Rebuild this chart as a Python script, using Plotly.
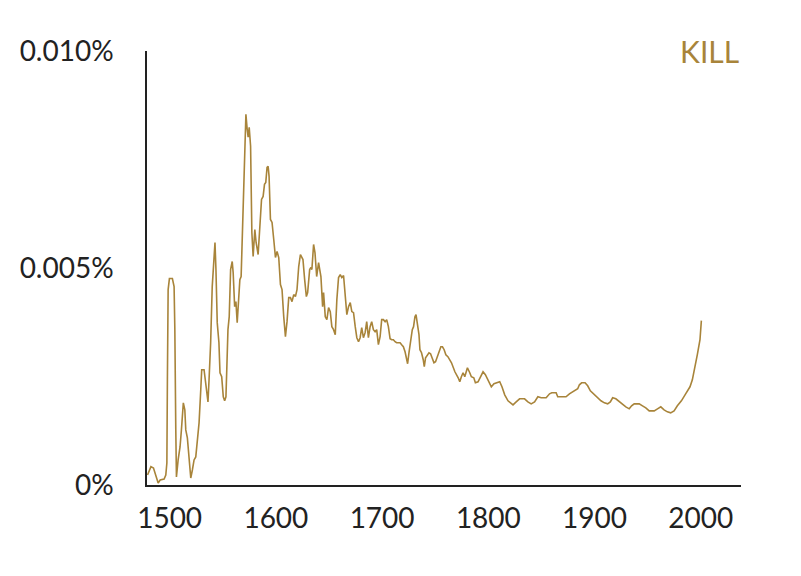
import plotly.graph_objects as go

# share of all words, in percent
years = [
    1479.2, 1482.4, 1484.8, 1486.1, 1488.0, 1489.2, 1491.1, 1494.8, 1496.4, 1497.4,
    1497.9, 1498.6, 1499.8, 1502.6, 1504.2, 1504.9, 1505.8, 1506.4, 1508.0, 1509.8,
    1511.1, 1512.9, 1514.3, 1515.2, 1516.7, 1518.3, 1519.9, 1521.4, 1523.0, 1524.6,
    1526.1, 1527.7, 1529.3, 1530.2, 1532.4, 1534.0, 1536.1, 1537.1, 1538.6, 1540.1,
    1541.7, 1542.7, 1543.6, 1544.8, 1546.4, 1547.4, 1549.0, 1550.5, 1551.8, 1553.0,
    1553.7, 1554.9, 1556.1, 1557.4, 1558.9, 1559.8, 1561.2, 1562.4, 1563.6, 1565.2,
    1566.1, 1567.3, 1568.9, 1570.5, 1571.8, 1573.0, 1573.9, 1574.9, 1576.2, 1577.4,
    1578.6, 1580.2, 1581.4, 1583.3, 1584.9, 1586.5, 1588.0, 1589.3, 1590.5, 1591.7,
    1592.7, 1593.6, 1594.9, 1596.4, 1598.0, 1599.6, 1601.1, 1602.7, 1604.3, 1605.8,
    1607.4, 1609.0, 1610.5, 1612.1, 1613.7, 1615.2, 1616.8, 1618.4, 1619.9, 1621.5,
    1623.1, 1624.6, 1625.5, 1627.1, 1628.7, 1629.9, 1631.8, 1633.0, 1633.9, 1635.5,
    1636.8, 1638.4, 1640.2, 1642.4, 1644.0, 1644.9, 1646.5, 1648.0, 1649.6, 1651.2,
    1652.7, 1654.3, 1655.9, 1657.4, 1659.0, 1660.6, 1662.1, 1663.7, 1665.3, 1666.8,
    1668.4, 1670.0, 1671.5, 1673.1, 1674.7, 1676.2, 1677.8, 1679.3, 1680.8, 1682.4,
    1684.0, 1685.5, 1687.1, 1688.7, 1690.2, 1691.8, 1693.4, 1694.9, 1696.5, 1698.1,
    1699.6, 1701.2, 1702.8, 1704.3, 1705.9, 1707.5, 1709.0, 1710.6, 1712.2, 1713.7,
    1715.3, 1716.9, 1718.4, 1720.0, 1721.6, 1723.1, 1724.0, 1725.3, 1726.5, 1728.4,
    1729.6, 1730.9, 1731.9, 1733.1, 1734.7, 1735.6, 1737.1, 1738.7, 1739.7, 1740.9,
    1742.5, 1744.1, 1745.6, 1747.2, 1748.8, 1750.3, 1751.9, 1753.4, 1755.3, 1756.8,
    1758.4, 1760.0, 1761.9, 1765.3, 1768.5, 1771.6, 1773.1, 1774.6, 1776.2, 1777.8,
    1780.3, 1782.5, 1784.0, 1786.3, 1787.8, 1790.3, 1791.9, 1795.0, 1797.2, 1799.7,
    1802.8, 1805.3, 1808.4, 1810.7, 1812.8, 1815.4, 1818.5, 1823.2, 1826.2, 1829.4,
    1834.1, 1837.2, 1840.3, 1843.5, 1846.6, 1849.7, 1854.4, 1857.6, 1859.7, 1863.8,
    1865.3, 1868.4, 1873.1, 1876.3, 1879.4, 1884.1, 1885.7, 1887.8, 1891.0, 1893.5,
    1896.0, 1899.8, 1902.9, 1906.0, 1909.2, 1912.3, 1914.8, 1917.0, 1920.0, 1923.2,
    1926.3, 1929.4, 1932.6, 1934.8, 1937.3, 1942.0, 1945.1, 1948.2, 1951.4, 1956.1,
    1959.2, 1962.3, 1965.4, 1968.5, 1971.6, 1974.8, 1977.9, 1981.7, 1985.7, 1989.8,
    1992.0, 1994.1, 1996.7, 1999.2, 2000.5,
]

share_pct = [
    0.000231, 0.000423, 0.000393, 0.000277, 0.000162, 0.000046, 0.000115, 0.000139, 0.000231, 0.000508,
    0.002424, 0.004503, 0.004757, 0.004757, 0.004572, 0.003579, 0.001270, 0.000185, 0.000577, 0.000877,
    0.001270, 0.001893, 0.001732, 0.001270, 0.001085, 0.000647, 0.000162, 0.000346, 0.000577, 0.000647,
    0.001108, 0.001432, 0.002194, 0.002655, 0.002655, 0.002355, 0.001916, 0.002424, 0.003279, 0.004572,
    0.005126, 0.005588, 0.004964, 0.003741, 0.003279, 0.002586, 0.002494, 0.002032, 0.001940, 0.002032,
    0.002586, 0.003579, 0.003879, 0.004964, 0.005149, 0.004895, 0.004110, 0.004225, 0.003741, 0.004272,
    0.004733, 0.004803, 0.006188, 0.007966, 0.008543, 0.008197, 0.008012, 0.008243, 0.007804, 0.005819,
    0.005265, 0.005888, 0.005588, 0.005311, 0.005957, 0.006581, 0.006650, 0.006927, 0.006973, 0.007320,
    0.007343, 0.007112, 0.006119, 0.006050, 0.005657, 0.005241, 0.005380, 0.005241, 0.004618, 0.004503,
    0.003879, 0.003417, 0.003764, 0.004318, 0.004318, 0.004225, 0.004387, 0.004341, 0.004503, 0.005034,
    0.005311, 0.005241, 0.005195, 0.004733, 0.004341, 0.004433, 0.004964, 0.005011, 0.004964, 0.005542,
    0.005357, 0.004803, 0.005126, 0.004803, 0.004110, 0.004433, 0.003879, 0.003810, 0.004087, 0.003995,
    0.003648, 0.003579, 0.003464, 0.004272, 0.004780, 0.004849, 0.004780, 0.004826, 0.004272, 0.003925,
    0.004110, 0.004202, 0.003995, 0.003971, 0.003648, 0.003394, 0.003302, 0.003394, 0.003625, 0.003394,
    0.003510, 0.003764, 0.003394, 0.003648, 0.003764, 0.003579, 0.003533, 0.003579, 0.003233, 0.003417,
    0.003810, 0.003810, 0.003764, 0.003810, 0.003648, 0.003371, 0.003348, 0.003348, 0.003302, 0.003279,
    0.003279, 0.003279, 0.003233, 0.003186, 0.003071, 0.002932, 0.002794, 0.003048, 0.003302, 0.003579,
    0.003648, 0.003879, 0.003925, 0.003764, 0.003464, 0.003117, 0.003048, 0.002886, 0.002725, 0.002932,
    0.003002, 0.003048, 0.003025, 0.002932, 0.002817, 0.002840, 0.002956, 0.003071, 0.003186, 0.003186,
    0.003117, 0.003002, 0.002956, 0.002817, 0.002609, 0.002471, 0.002378, 0.002494, 0.002586, 0.002494,
    0.002702, 0.002586, 0.002494, 0.002471, 0.002355, 0.002378, 0.002448, 0.002609, 0.002540, 0.002424,
    0.002263, 0.002332, 0.002355, 0.002378, 0.002263, 0.002078, 0.001940, 0.001847, 0.001916, 0.001986,
    0.001986, 0.001916, 0.001870, 0.001916, 0.002032, 0.002009, 0.002009, 0.002101, 0.002124, 0.002124,
    0.002032, 0.002032, 0.002032, 0.002101, 0.002147, 0.002217, 0.002309, 0.002355, 0.002355, 0.002286,
    0.002170, 0.002078, 0.002009, 0.001940, 0.001893, 0.001870, 0.001916, 0.002009, 0.001986, 0.001916,
    0.001847, 0.001801, 0.001755, 0.001824, 0.001870, 0.001870, 0.001824, 0.001778, 0.001709, 0.001709,
    0.001755, 0.001801, 0.001732, 0.001686, 0.001662, 0.001709, 0.001824, 0.001940, 0.002101, 0.002263,
    0.002424, 0.002655, 0.003002, 0.003348, 0.003787,
]

x_ticks = [1500, 1600, 1700, 1800, 1900, 2000]
y_ticks = [0, 0.005, 0.010]
y_labels = ["0%", "0.005%", "0.010%"]
word = "KILL"

gold = "#a8843a"
ink = "#222222"

fig = go.Figure()
fig.add_trace(go.Scatter(x=years, y=share_pct, mode="lines",
                         line=dict(color=gold, width=1.6), hoverinfo="skip"))

# page body adds ~8px, margins below take that into account
fig.update_layout(
    width=801, height=576,
    margin=dict(l=137, r=68, t=43, b=99),
    paper_bgcolor="white", plot_bgcolor="white",
    showlegend=False,
    font=dict(family="Lato, sans-serif", size=28, color=ink),
)
fig.update_xaxes(range=[1478.7, 2037.8], tickvals=x_ticks, showgrid=False, zeroline=False,
                 showline=True, linecolor=ink, linewidth=1.5, ticks="",
                 ticklabelstandoff=8, tickfont=dict(size=28, color=ink))
fig.update_yaxes(range=[0, 0.0100], tickvals=y_ticks, ticktext=y_labels, showgrid=False,
                 zeroline=False, showline=True, linecolor=ink, linewidth=1.5, ticks="",
                 ticklabelstandoff=26, tickfont=dict(size=28, color=ink))

fig.add_annotation(text=word, xref="paper", yref="paper", x=1.0, y=1.0,
                   xanchor="right", yanchor="middle", showarrow=False,
                   font=dict(family="Lato, sans-serif", size=30, color=gold))

fig.write_html("out.html")
